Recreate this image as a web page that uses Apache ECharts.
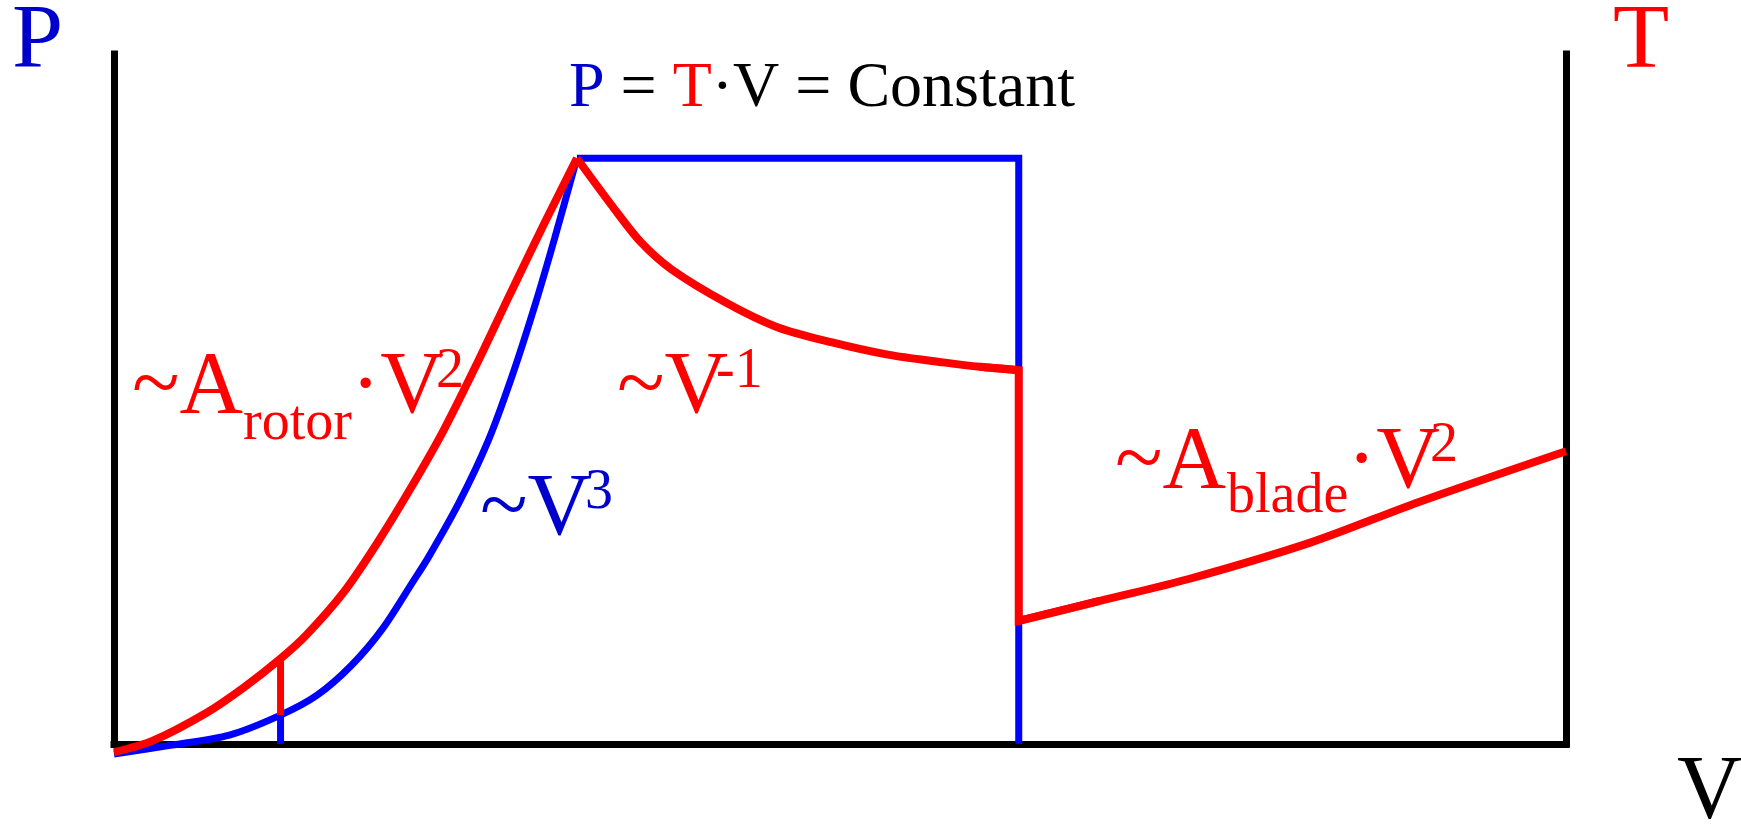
<!DOCTYPE html>
<html>
<head>
<meta charset="utf-8">
<script src="https://cdn.jsdelivr.net/npm/echarts@6/dist/echarts.min.js"></script>
<style>
html,body{margin:0;padding:0;background:#fff;}
#chart{width:1741px;height:824px;}
</style>
</head>
<body>
<div id="chart"></div>
<script>
// ---- data (wind speed V vs. power P / thrust T, arbitrary units 0..100) ----
const rotorV = [0, 2.68, 6.35, 8.94, 11.47, 13.23, 15.83, 18.12, 20.41, 22.71, 25.0, 27.29, 29.59, 31.88];
const rotorT = [-1.2, 0.48, 4.50, 8.20, 12.38, 15.76, 22.03, 29.10, 36.98, 45.50, 55.14, 65.27, 75.24, 84.89];
const ratedV = [31.88, 34.48, 36.31, 38.38, 42.13, 45.64, 49.46, 53.29, 57.11, 59.63, 62.31];
const ratedT = [84.89, 77.49, 72.67, 68.81, 63.99, 60.45, 58.20, 56.43, 55.31, 54.66, 54.18];
const stepV  = [59.63, 62.31, 62.31, 67.89];
const stepT  = [54.66, 54.18, 17.85, 20.74];
const bladeV = [62.31, 67.89, 74.08, 82.49, 89.83, 100];
const bladeT = [17.85, 20.74, 23.95, 29.26, 35.05, 42.44];
const powerV = [0, 3.98, 7.95, 11.47, 13.99, 16.36, 18.50, 20.57, 21.64, 23.78, 25.76, 27.45, 29.05, 30.35, 31.88];
const powerP = [-1.45, -0.16, 1.29, 4.18, 7.07, 11.41, 16.72, 23.47, 27.01, 35.05, 43.89, 53.54, 63.99, 73.31, 84.89];
const plateauV = [31.88, 62.31, 62.31];
const plateauP = [84.89, 84.89, 0];
const cutInV = [11.47, 11.47];
const cutInT = [12.38, 4.18];
const cutInP = [4.18, 0];

const zip = (a, b) => a.map((v, i) => [v, b[i]]);

const FONT = '"Liberation Serif", "Times New Roman", serif';
const BLUE_TXT = '#0000cc';
const RED = '#ff0000';
const BLUE = '#0000ff';

// text pieces: [text, left x, baseline y, size, color]
const texts = [
  ['P', 12, 69, 92, BLUE_TXT],
  ['T', 1613, 69, 92, RED],
  ['V', 1677, 820, 90, '#000'],
  ['~A', 132, 414, 88, RED],
  ['rotor', 243, 440, 56, RED],
  ['\u00B7V', 351, 414, 88, RED],
  ['2', 436, 388, 56, RED],
  ['~V', 617, 414, 88, RED],
  ['-1', 716, 388, 56, RED],
  ['~V', 480, 536, 88, BLUE_TXT],
  ['3', 585, 509, 56, BLUE_TXT],
  ['~A', 1115, 489, 88, RED],
  ['blade', 1227, 513, 56, RED],
  ['\u00B7V', 1347, 489, 88, RED],
  ['2', 1430, 462, 56, RED]
];

const graphics = texts.map(t => ({
  type: 'text', x: t[1], y: t[2] - 0.28 * t[3], silent: true,
  style: { text: t[0], font: t[3] + 'px ' + FONT, fill: t[4], align: 'left', verticalAlign: 'middle' }
}));
graphics.push({
  type: 'text', x: 822, y: 107 - 0.28 * 64, silent: true,
  style: {
    text: '{b|P}{k| = }{r|T}{k|\u00B7V = Constant}',
    align: 'center', verticalAlign: 'middle',
    font: '64px ' + FONT,
    rich: {
      b: { fill: BLUE_TXT, font: '64px ' + FONT },
      r: { fill: RED, font: '64px ' + FONT },
      k: { fill: '#000', font: '64px ' + FONT }
    }
  }
});

const axisLineStyle = { color: '#000', width: 7, cap: 'square' };
const hidden = { axisTick: { show: false }, axisLabel: { show: false }, splitLine: { show: false } };
const curve = (data, color, width, z) => ({
  type: 'line', data, symbol: 'none', clip: false, z, smooth: 0.3,
  lineStyle: { color, width, cap: 'butt' }
});
const poly = (data, color, width, z) => ({
  type: 'line', data, symbol: 'none', clip: false, z,
  lineStyle: { color, width, join: 'miter', miterLimit: 4, cap: 'butt' }
});

const chart = echarts.init(document.getElementById('chart'));
chart.setOption({
  animation: false,
  backgroundColor: '#fff',
  grid: { left: 114, right: 175, top: 54, bottom: 80, containLabel: false },
  xAxis: Object.assign({ type: 'value', min: 0, max: 100,
    axisLine: { show: true, onZero: false, lineStyle: axisLineStyle } }, hidden),
  yAxis: [
    Object.assign({ type: 'value', min: 0, max: 100, position: 'left',
      axisLine: { show: true, onZero: false, lineStyle: axisLineStyle } }, hidden),
    Object.assign({ type: 'value', min: 0, max: 100, position: 'right',
      axisLine: { show: true, onZero: false, lineStyle: axisLineStyle } }, hidden)
  ],
  series: [
    curve(zip(powerV, powerP), BLUE, 7, 2),
    poly(zip(plateauV, plateauP), BLUE, 7, 2),
    poly(zip(cutInV, cutInP), BLUE, 7, 2),
    poly(zip(cutInV, cutInT), RED, 7, 3),
    curve(zip(rotorV, rotorT), RED, 8, 3),
    curve(zip(ratedV, ratedT), RED, 8, 3),
    poly(zip(stepV, stepT), RED, 8, 3),
    curve(zip(bladeV, bladeT), RED, 8, 3)
  ],
  graphic: graphics
});
</script>
</body>
</html>
